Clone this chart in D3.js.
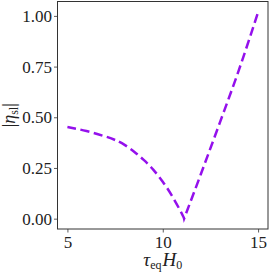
<!DOCTYPE html>
<html>
<head>
<meta charset="utf-8">
<script src="https://cdn.jsdelivr.net/npm/d3@7"></script>
<style>
  body { margin: 0; background: #fff; }
</style>
</head>
<body>
<div class="chart"></div>
<script>
// values
const tauLeft = [5, 6, 7, 7.5, 8, 8.5, 9, 9.5, 10, 10.5, 11, 11.12]
const etaLeft = [0.452, 0.432, 0.405, 0.388, 0.364, 0.33, 0.29, 0.242, 0.182, 0.11, 0.025, 0.0]
const tauRight = [11.12, 12, 13, 14, 15]
const etaRight = [0.0, 0.22, 0.475, 0.735, 1.018]
const xTicks = [5, 10, 15]
const yTicks = [0, 0.25, 0.5, 0.75, 1.0]

const left = tauLeft.map((t, i) => ({x: t, y: etaLeft[i]}))
const right = tauRight.map((t, i) => ({x: t, y: etaRight[i]}))

const serif = '"Liberation Serif", serif'
const width = 272, height = 272
const margin = {left: 57.5, right: 4, top: 1.5, bottom: 43}

const svg = d3.select('.chart').append('svg')
    .attr('width', width)
    .attr('height', height)

const x = d3.scaleLinear()
    .domain([4.48, 15.52])
    .range([margin.left, width - margin.right])

const y = d3.scaleLinear()
    .domain([-0.051, 1.071])
    .range([height - margin.bottom, margin.top])

// axes
const xAxis = svg.append('g')
    .attr('transform', `translate(0,${height - margin.bottom})`)
    .call(d3.axisBottom(x).tickValues(xTicks).tickSize(3.5).tickPadding(3).tickFormat(d3.format('d')))
const yAxis = svg.append('g')
    .attr('transform', `translate(${margin.left},0)`)
    .call(d3.axisLeft(y).tickValues(yTicks).tickSize(3.5).tickPadding(2).tickFormat(d3.format('.2f')))

for (const ax of [xAxis, yAxis]) {
    ax.attr('font-family', serif).attr('font-size', 17)
    ax.select('.domain').remove()
    ax.selectAll('line').attr('stroke', '#333').attr('stroke-width', 0.8)
    ax.selectAll('text').attr('fill', '#222')
}

// frame
svg.append('rect')
    .attr('x', margin.left)
    .attr('y', margin.top)
    .attr('width', width - margin.left - margin.right)
    .attr('height', height - margin.top - margin.bottom)
    .attr('fill', 'none')
    .attr('stroke', '#333')
    .attr('stroke-width', 1)

// curve: two smooth branches meeting in a sharp V
const lineL = d3.line()
    .x(d => x(d.x))
    .y(d => y(d.y))
    .curve(d3.curveNatural)
const lineR = d3.line()
    .x(d => x(d.x))
    .y(d => y(d.y))
    .curve(d3.curveMonotoneX)

svg.append('path')
    .attr('d', lineL(left) + lineR(right).replace(/^M/, 'L'))
    .attr('fill', 'none')
    .attr('stroke', '#9410ec')
    .attr('stroke-width', 2.5)
    .attr('stroke-dasharray', '9,4.5')

// labels
const xl = svg.append('text')
    .attr('x', (margin.left + width - margin.right) / 2)
    .attr('y', 266)
    .attr('text-anchor', 'middle')
    .attr('font-family', serif)
    .attr('font-size', 19)
    .attr('fill', '#222')
xl.append('tspan').attr('font-style', 'italic').text('τ')
xl.append('tspan').attr('font-size', 12).attr('dy', 3).text('eq')
xl.append('tspan').attr('font-style', 'italic').attr('dy', -3).attr('dx', 1).text('H')
xl.append('tspan').attr('font-size', 12).attr('dy', 3).text('0')

const yl = svg.append('text')
    .attr('transform', `translate(15,${(margin.top + height - margin.bottom) / 2}) rotate(-90)`)
    .attr('text-anchor', 'middle')
    .attr('font-family', serif)
    .attr('font-size', 18)
    .attr('fill', '#222')
yl.append('tspan').text('|')
yl.append('tspan').attr('font-style', 'italic').text('η')
yl.append('tspan').attr('font-size', 12).attr('dy', 3).text('sl')
yl.append('tspan').attr('dy', -3).text('|')
</script>
</body>
</html>
